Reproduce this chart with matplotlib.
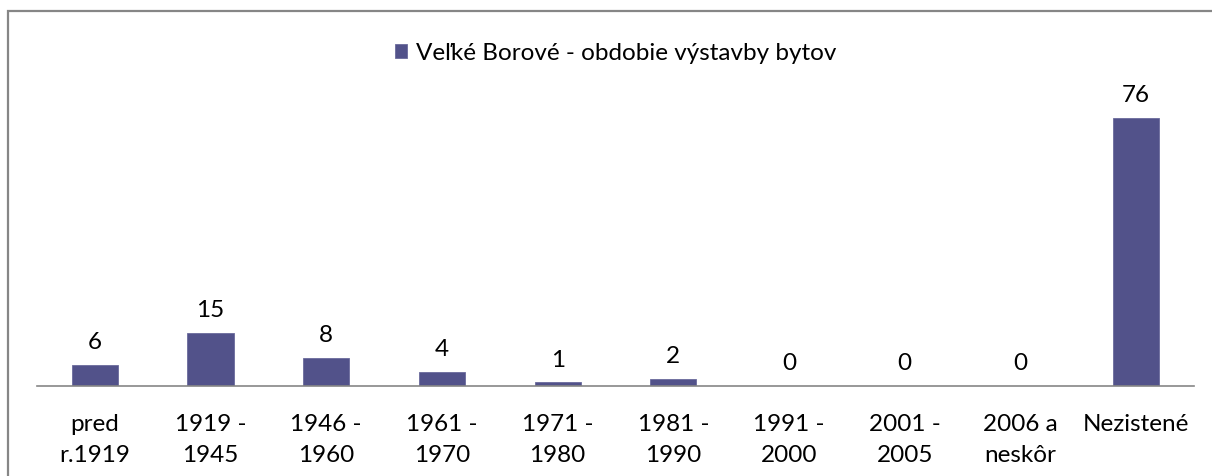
import matplotlib.pyplot as plt
from matplotlib.patches import Rectangle

plt.rcParams['font.family'] = ['Lato', 'DejaVu Sans']

categories = ["pred\nr.1919", "1919 -\n1945", "1946 -\n1960", "1961 -\n1970", "1971 -\n1980",
              "1981 -\n1990", "1991 -\n2000", "2001 -\n2005", "2006 a\nneskôr", "Nezistené"]
values = [6, 15, 8, 4, 1, 2, 0, 0, 0, 76]
series_name = "Veľké Borové - obdobie výstavby bytov"

bar_color = "#52528A"
fs = 17.5

fig = plt.figure(figsize=(12.12, 4.77), dpi=100)

# outer chart frame (cut off on right and bottom like the original)
fig.patches.append(Rectangle((8 / 1212, -0.1), 1.2, 1 - 12 / 477 + 0.1,
                             transform=fig.transFigure, fill=False,
                             edgecolor="#868686", linewidth=1.6))

ax = fig.add_axes([37 / 1212, 90 / 477, 1157 / 1212, 0.5913])

x = range(len(categories))
bars = ax.bar(x, values, width=0.4, color=bar_color, edgecolor="#6a6a9c",
              linewidth=0.6, label=series_name)

for b, v in zip(bars, values):
    ax.annotate(str(v), (b.get_x() + b.get_width() / 2, v), xytext=(0, 12),
                textcoords="offset points", ha="center", va="baseline", fontsize=fs)

ax.set_xlim(-0.5, len(categories) - 0.5)
ax.set_ylim(0, 80)
ax.set_xticks(list(x))
ax.set_xticklabels(categories, fontsize=fs, linespacing=1.6)
ax.tick_params(axis="x", length=0, pad=19.5)
ax.set_yticks([])

for side in ["top", "right", "left"]:
    ax.spines[side].set_visible(False)
ax.spines["bottom"].set_color("#868686")
ax.spines["bottom"].set_linewidth(1.2)

fig.legend(loc="center", bbox_to_anchor=(0.508, 0.887), frameon=False, fontsize=fs,
           handlelength=0.5, handleheight=0.5, handletextpad=0.35)

fig.savefig("out.png", dpi=100)
